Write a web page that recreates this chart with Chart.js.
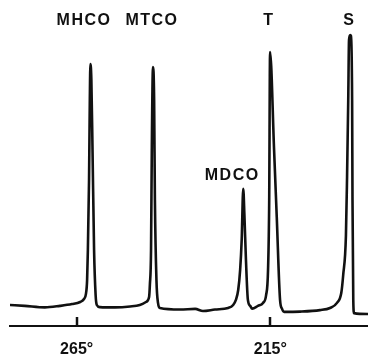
<!DOCTYPE html>
<html>
<head>
<meta charset="utf-8">
<script src="https://cdn.jsdelivr.net/npm/chart.js@4/dist/chart.umd.min.js"></script>
<style>
  html, body { margin: 0; padding: 0; background: #fff; }
  #wrap { width: 368px; height: 356px; position: relative; }
</style>
</head>
<body>
<div id="wrap"><canvas id="c" width="368" height="356"></canvas></div>
<script>
// Temperature (degrees) along the scan, decreasing to the right
const temps = [282.2, 278.4, 273.2, 269.3, 266.2, 264.1, 263.1, 262.6, 262.3, 262.1, 261.8, 261.6, 261.45, 261.2, 260.9, 260.5, 260.1, 259.8, 259.0, 255.1, 251.2, 248.7, 247.1, 246.3, 246.1, 245.8, 245.6, 245.3, 245.0, 244.8, 244.4, 244.0, 243.5, 238.3, 234.4, 232.4, 229.3, 225.9, 224.6, 223.9, 223.3, 222.8, 222.4, 222.0, 221.7, 221.3, 220.8, 220.2, 219.7, 218.2, 216.9, 216.1, 215.6, 215.3, 215.08, 214.04, 213.35, 212.5, 211.98, 211.46, 207.3, 202.2, 199.6, 197.8, 196.7, 196.2, 195.5, 195.2, 194.9, 194.7, 194.4, 194.2, 193.9, 193.8, 193.6, 193.4, 189.8];
// Detector signal (arbitrary units)
const signal = [7.0, 6.7, 6.2, 6.7, 7.3, 8.0, 9.0, 10.7, 15.3, 25.3, 48.7, 75.3, 87.3, 82.0, 58.7, 25.3, 10.3, 7.0, 6.3, 6.2, 6.5, 7.0, 8.0, 9.7, 13.7, 25.3, 58.7, 86.3, 75.3, 42.0, 15.3, 7.7, 6.0, 5.5, 5.7, 5.0, 5.5, 6.0, 7.0, 8.7, 12.0, 18.7, 28.7, 45.7, 37.0, 22.0, 8.7, 6.7, 5.8, 6.7, 7.7, 10.3, 18.7, 42.0, 91.3, 58.7, 36.3, 8.7, 5.7, 4.7, 4.8, 5.3, 6.0, 7.7, 11.0, 17.0, 30.0, 50.0, 75.3, 95.3, 97.0, 96.7, 75.3, 42.0, 8.7, 4.3, 4.0];
// Axis tick values
const tickValues = [265, 215];
// Peak labels and their anchor (temperature, signal at text baseline)
const peakLabels = ['MHCO', 'MTCO', 'MDCO', 'T', 'S'];
const labelTemps = [263.1, 245.55, 224.85, 215.4, 194.6];
const labelSignals = [100.3, 100.3, 48.7, 100.3, 100.3];

const FONT = "'Liberation Sans Narrow', 'Liberation Sans', Arial, sans-serif";
const INK = '#111';

const annot = {
  id: 'annot',
  afterDraw(chart) {
    const ctx = chart.ctx;
    const xs = chart.scales.x, ys = chart.scales.y;
    const bottom = chart.chartArea.bottom;
    ctx.save();
    // upward tick marks
    ctx.strokeStyle = INK;
    ctx.lineWidth = 2.5;
    xs.ticks.forEach(t => {
      const px = Math.round(xs.getPixelForValue(t.value));
      ctx.beginPath();
      ctx.moveTo(px, bottom);
      ctx.lineTo(px, bottom - 9);
      ctx.stroke();
    });
    // peak labels
    ctx.fillStyle = INK;
    ctx.font = "bold 16px " + FONT;
    ctx.textAlign = 'center';
    ctx.textBaseline = 'alphabetic';
    try { ctx.letterSpacing = '1.5px'; } catch (e) {}
    peakLabels.forEach((lab, i) => {
      ctx.fillText(lab, xs.getPixelForValue(labelTemps[i]), ys.getPixelForValue(labelSignals[i]));
    });
    ctx.restore();
  }
};

new Chart(document.getElementById('c'), {
  type: 'line',
  data: {
    datasets: [{
      data: temps.map((t, i) => ({ x: t, y: signal[i] })),
      borderColor: INK,
      borderWidth: 2.6,
      pointRadius: 0,
      fill: false,
      cubicInterpolationMode: 'monotone',
      borderJoinStyle: 'round',
      borderCapStyle: 'round'
    }]
  },
  options: {
    responsive: false,
    animation: false,
    events: [],
    layout: { padding: { left: 10, right: 0, top: 26, bottom: 0 } },
    plugins: { legend: { display: false }, tooltip: { enabled: false }, title: { display: false } },
    scales: {
      x: {
        type: 'linear',
        reverse: true,
        min: 189.8,
        max: 282.2,
        afterBuildTicks: s => { s.ticks = tickValues.map(v => ({ value: v })); },
        afterFit: s => { s.height = 30; },
        grid: { display: true, drawOnChartArea: false, drawTicks: false },
        border: { display: true, color: INK, width: 2 },
        ticks: {
          padding: 14,
          color: INK,
          font: { family: FONT, size: 16, weight: 'bold' },
          callback: v => v + '°',
          maxRotation: 0
        }
      },
      y: {
        display: false,
        min: 0,
        max: 100
      }
    }
  },
  plugins: [annot]
});
</script>
</body>
</html>
